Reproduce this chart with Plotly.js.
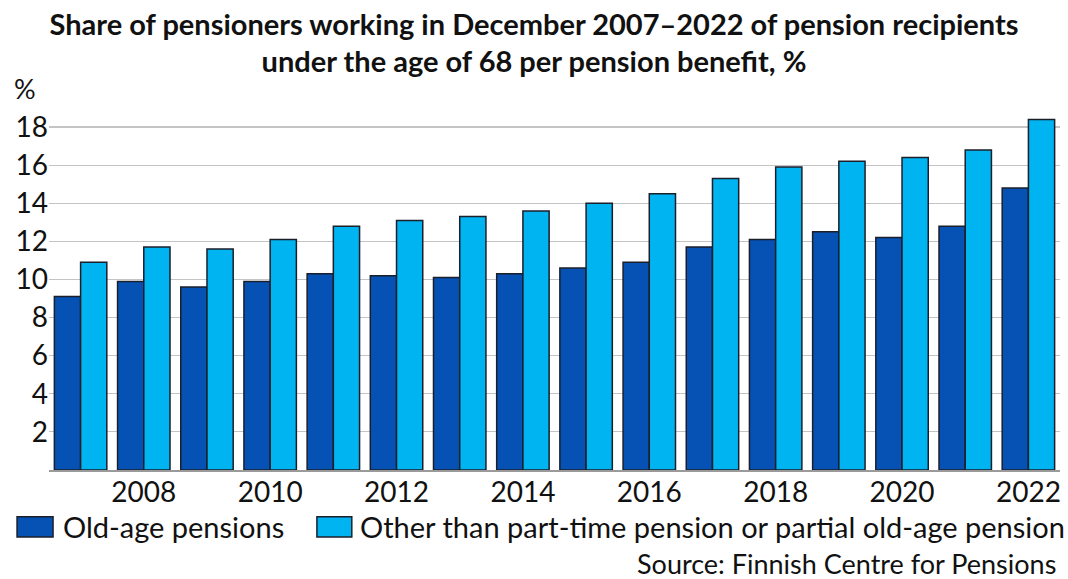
<!DOCTYPE html>
<html>
<head>
<meta charset="utf-8">
<script src="https://cdn.plot.ly/plotly-3.0.1.min.js"></script>
<style>
  html, body { margin: 0; padding: 0; background: #ffffff; }
  #chart { width: 1068px; height: 579px; }
</style>
</head>
<body>
<div id="chart"></div>
<script>
// Share of working pensioners under 68, December of each year, %
const years = [2007, 2008, 2009, 2010, 2011, 2012, 2013, 2014, 2015, 2016, 2017, 2018, 2019, 2020, 2021, 2022];
const oldAge = [9.1, 9.9, 9.6, 9.9, 10.3, 10.2, 10.1, 10.3, 10.6, 10.9, 11.7, 12.1, 12.5, 12.2, 12.8, 14.8];
const otherThanPartTime = [10.9, 11.7, 11.6, 12.1, 12.8, 13.1, 13.3, 13.6, 14.0, 14.5, 15.3, 15.9, 16.2, 16.4, 16.8, 18.4];
const seriesNames = ['Old-age pensions', 'Other than part-time pension or partial old-age pension'];
const xTicks = [2008, 2010, 2012, 2014, 2016, 2018, 2020, 2022];
const yTicks = [2, 4, 6, 8, 10, 12, 14, 16, 18];

const colors = ['#0652b4', '#00b4f2'];
const outline = '#1b1f2a';
const font = 'Lato, "Open Sans", sans-serif';
const textColor = '#111111';

const traces = [oldAge, otherThanPartTime].map((vals, i) => ({
  type: 'bar',
  x: years,
  y: vals,
  name: seriesNames[i],
  marker: { color: colors[i], line: { color: outline, width: 1.5 } },
  showlegend: false,
  hoverinfo: 'x+y'
}));

// Custom legend row below the axis (paper coords are relative to the plot area)
const legendY = -0.157;
const swatchH = 0.028;
const shapes = [];
const annotations = [];
const swatchX = [[-0.0316, 0.0040], [0.2650, 0.2995]];
const labelX = [0.0115, 0.3060];
seriesNames.forEach((name, i) => {
  shapes.push({
    type: 'rect', xref: 'paper', yref: 'paper',
    x0: swatchX[i][0], x1: swatchX[i][1], y0: legendY - swatchH, y1: legendY + swatchH,
    fillcolor: colors[i], line: { color: outline, width: 1.5 }
  });
  annotations.push({
    xref: 'paper', yref: 'paper', x: labelX[i], y: legendY,
    xanchor: 'left', yanchor: 'middle', showarrow: false,
    text: name, font: { family: font, size: 29, color: textColor }
  });
});

annotations.push({
  xref: 'paper', yref: 'paper', x: 0.998, y: -0.258,
  xanchor: 'right', yanchor: 'middle', showarrow: false,
  text: 'Source: Finnish Centre for Pensions',
  font: { family: font, size: 27, color: textColor }
});
annotations.push({
  xref: 'paper', yref: 'paper', x: -0.024, y: 1.055,
  xanchor: 'center', yanchor: 'middle', showarrow: false,
  text: '%', font: { family: font, size: 27, color: textColor }
});

const layout = {
  width: 1068,
  height: 579,
  paper_bgcolor: '#ffffff',
  plot_bgcolor: '#ffffff',
  margin: { l: 49, r: 8, t: 108, b: 109 },
  title: {
    text: '<b>Share of pensioners working in December 2007–2022 of pension recipients<br>under the age of 68 per pension benefit, %</b>',
    font: { family: font, size: 29, color: textColor },
    x: 0.5, xanchor: 'center', y: 0.94, yanchor: 'top'
  },
  barmode: 'group',
  bargap: 0.17,
  bargroupgap: 0,
  xaxis: {
    type: 'linear',
    range: [2006.5, 2022.5],
    tickvals: xTicks,
    ticks: '',
    ticklabelstandoff: -3,
    showgrid: false,
    showline: true,
    linecolor: '#9a9a9a',
    linewidth: 1.5,
    tickfont: { family: font, size: 28, color: textColor },
    fixedrange: true
  },
  yaxis: {
    range: [0, 19],
    tickvals: yTicks,
    ticks: '',
    showgrid: true,
    gridcolor: '#c4c4c4',
    gridwidth: 1.2,
    zeroline: false,
    showline: false,
    tickfont: { family: font, size: 28, color: textColor },
    fixedrange: true
  },
  shapes: shapes,
  annotations: annotations
};

Plotly.newPlot('chart', traces, layout, { displayModeBar: false, staticPlot: true });
</script>
</body>
</html>
